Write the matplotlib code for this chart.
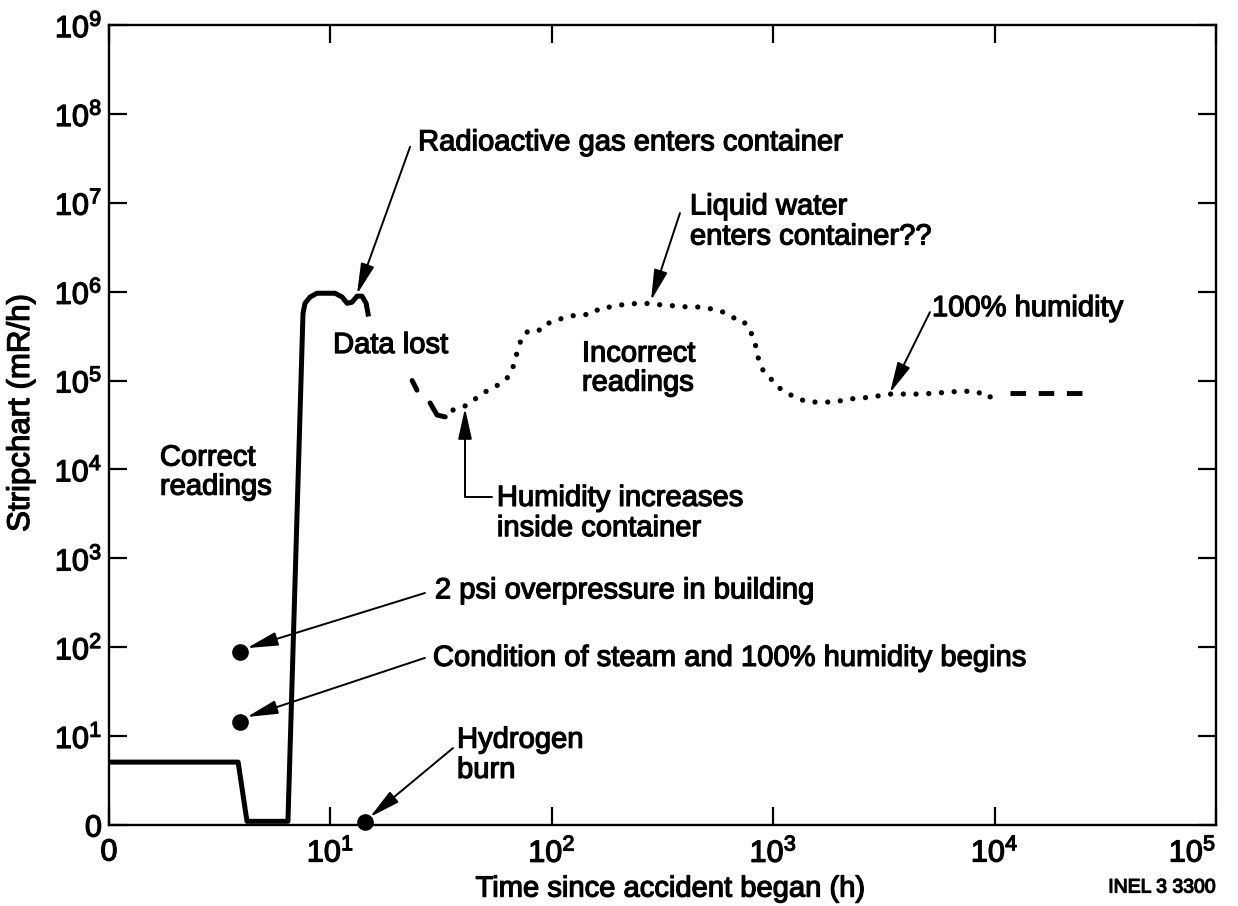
import matplotlib
matplotlib.use('Agg')
import matplotlib.pyplot as plt
import matplotlib.patheffects as pe
from matplotlib.text import Text
from matplotlib.ticker import NullLocator

plt.rcParams['font.family'] = ['Liberation Sans', 'DejaVu Sans']
plt.rcParams['mathtext.default'] = 'regular'

# stripchart trace (time in h, reading in mR/h)
# solid part: correct readings, then the jump when the gas reaches the container
solid_t = [1, 3.83, 4.2, 6.43, 7.52, 7.68, 8.09, 8.69, 9.55, 10.5, 11.3, 11.9,
           12.5, 13.2, 13.9, 14.5, 14.8]
solid_mr = [5.1, 5.1, 1.1, 1.1, 5.7e5, 7.4e5, 8.7e5, 9.6e5, 9.6e5, 9.6e5, 8.7e5, 7.4e5,
            7.6e5, 8.9e5, 8.9e5, 7.4e5, 5.6e5]

# the two short pieces in the "data lost" stretch
lost1_t = [23.4, 24.6]
lost1_mr = [1.0e5, 7.8e4]
lost2_t = [28.2, 30.3, 33.0]
lost2_mr = [5.6e4, 4.1e4, 3.9e4]

# dotted part: incorrect readings
dot_t = [35.8, 40.5, 46.4, 51.5, 57.1, 63.4, 66.8, 69.6, 71.8, 74.1, 79.7, 90.3,
         98.1, 109, 121, 134, 152, 165, 183, 203, 226, 255, 286, 318, 368, 412,
         467, 529, 593, 658, 694, 746, 786, 828, 853, 899, 968, 1052, 1154, 1281,
         1435, 1660, 1900, 2177, 2518, 2943, 3370, 3855, 4603, 5494, 6283, 7194,
         8414, 9247, 10250]
dot_mr = [4.66e4, 5.17e4, 6.52e4, 7.81e4, 8.9e4, 1.09e5, 1.42e5, 2.04e5, 2.64e5,
          3.25e5, 3.7e5, 3.7e5, 4.55e5, 4.92e5, 5.32e5, 5.46e5, 5.6e5, 6.55e5,
          6.72e5, 7.07e5, 7.26e5, 7.45e5, 7.26e5, 7.07e5, 6.89e5, 6.72e5, 6.72e5,
          6.38e5, 5.9e5, 5.19e5, 4.55e5, 4.44e5, 3.7e5, 2.64e5, 1.84e5, 1.31e5,
          1.07e5, 8.45e4, 7.23e4, 6.35e4, 5.73e4, 5.73e4, 5.73e4, 6.19e4, 6.35e4,
          6.69e4, 7.05e4, 7.05e4, 7.05e4, 7.23e4, 7.43e4, 7.62e4, 7.43e4, 6.35e4,
          7.05e4]

# dashed tail at the end
tail_t = [11750, 24800]
tail_mr = [7.2e4, 7.2e4]

# event dots (2 psi, steam, hydrogen burn)
event_t = [3.9, 3.9, 14.3]
event_mr = [88, 14.4, 1.08]

xtick_vals = [1, 1e1, 1e2, 1e3, 1e4, 1e5]
xtick_labels = ['0', '$10^{1}$', '$10^{2}$', '$10^{3}$', '$10^{4}$', '$10^{5}$']
ytick_vals = [10.0 ** k for k in range(10)]
ytick_labels = ['0'] + ['$10^{%d}$' % k for k in range(1, 10)]


def at(lx, ly):
    # annotation positions given in decades
    return (10 ** lx, 10 ** ly)


fig = plt.figure(figsize=(12.38, 9.06), dpi=100)
ax = fig.add_axes([109 / 1238, 81 / 906, 1107 / 1238, 800 / 906])
ax.set_xscale('log')
ax.set_yscale('log')

ax.plot(solid_t, solid_mr, color='black', lw=3.6, solid_joinstyle='round')
ax.plot(lost1_t, lost1_mr, color='black', lw=3.6, solid_capstyle='round')
ax.plot(lost2_t, lost2_mr, color='black', lw=3.6, solid_capstyle='round')
ax.plot(dot_t, dot_mr, color='black', lw=3.8, linestyle=(0, (0.01, 2.4)),
        dash_capstyle='round')
ax.plot(tail_t, tail_mr, color='black', lw=3.5, linestyle=(0, (3.2, 2.6)))
ax.plot(event_t, event_mr, 'o', color='black', ms=11, clip_on=False, zorder=5)

ax.set_xlim(1, 1e5)
ax.set_ylim(1, 1e9)
ax.set_xticks(xtick_vals)
ax.set_xticklabels(xtick_labels)
ax.set_yticks(ytick_vals)
ax.set_yticklabels(ytick_labels)
ax.xaxis.set_minor_locator(NullLocator())
ax.yaxis.set_minor_locator(NullLocator())
ax.tick_params(which='major', direction='in', length=13, width=1.6,
               top=True, right=True, labelsize=22, colors='black')
ax.tick_params(axis='x', pad=9)
ax.tick_params(axis='y', pad=5)
ax.get_xticklabels()[-1].set_horizontalalignment('right')
for sp in ax.spines.values():
    sp.set_linewidth(1.7)

ax.set_xlabel('Time since accident began (h)', fontsize=21)
ax.xaxis.set_label_coords(0.507, -0.062)
ax.set_ylabel('Stripchart (mR/h)', fontsize=22.5)
ax.yaxis.set_label_coords(-0.066, 0.515)
fig.text(1216 / 1238, 1 - 888 / 906, 'INEL 3 3300', fontsize=14, ha='right', va='center')

fs = 21
arrow = dict(arrowstyle='-|>,head_length=0.9,head_width=0.2', color='black',
             lw=1.4, mutation_scale=fs, shrinkA=0, shrinkB=0)

ax.text(*at(1.396, 7.68), 'Radioactive gas enters container', fontsize=fs, va='center')
ax.annotate('', xy=at(1.12, 5.97), xytext=at(1.36, 7.63), arrowprops=arrow)

ax.text(*at(2.624, 6.79), 'Liquid water\nenters container??', fontsize=fs,
        va='center', linespacing=1.1)
ax.annotate('', xy=at(2.448, 5.9), xytext=at(2.579, 6.884), arrowprops=arrow)

ax.text(*at(1.012, 5.40), 'Data lost', fontsize=fs, va='center')
ax.text(*at(2.136, 5.14), 'Incorrect\nreadings', fontsize=fs, va='center',
        linespacing=1.05)
ax.text(*at(0.230, 3.97), 'Correct\nreadings', fontsize=fs, va='center',
        linespacing=1.05)

ax.text(*at(3.717, 5.815), '100% humidity', fontsize=fs, va='center')
ax.annotate('', xy=at(3.527, 4.86), xytext=at(3.708, 5.77), arrowprops=arrow)

ax.text(*at(1.752, 3.51), 'Humidity increases\ninside container', fontsize=fs,
        va='center', linespacing=1.1)
elbow = dict(arrow, connectionstyle='angle,angleA=0,angleB=90,rad=0')
ax.annotate('', xy=at(1.608, 4.69), xytext=at(1.730, 3.69), arrowprops=elbow)

ax.text(*at(1.472, 2.64), '2 psi overpressure in building', fontsize=fs, va='center')
ax.annotate('', xy=at(0.623, 1.99), xytext=at(1.427, 2.61), arrowprops=arrow)

ax.text(*at(1.463, 1.88), 'Condition of steam and 100% humidity begins',
        fontsize=fs, va='center')
ax.annotate('', xy=at(0.623, 1.215), xytext=at(1.427, 1.88), arrowprops=arrow)

ax.text(*at(1.572, 0.79), 'Hydrogen\nburn', fontsize=fs, va='center', linespacing=1.1)
ax.annotate('', xy=at(1.179, 0.09), xytext=at(1.554, 0.866), arrowprops=arrow)

# scanned lettering is heavier than the regular face
for t in fig.findobj(Text):
    t.set_path_effects([pe.withStroke(linewidth=0.9, foreground='black')])

fig.savefig('out.png', dpi=100)
